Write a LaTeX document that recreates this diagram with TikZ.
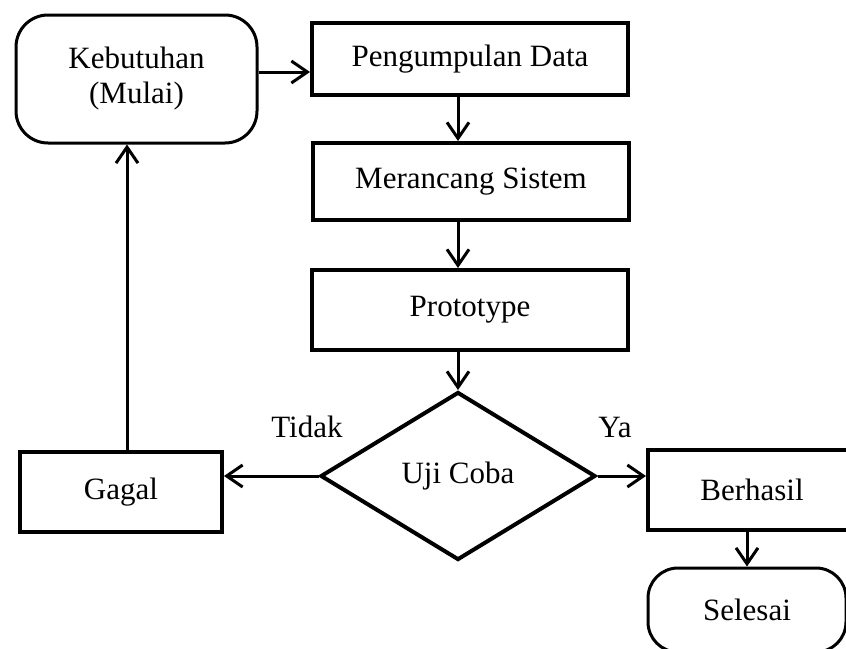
\documentclass[tikz,border=0pt]{standalone}
\usepackage{fontspec}
\setmainfont{Liberation Serif}
\usepackage{tikz}
\usetikzlibrary{shapes.geometric,arrows.meta}

\begin{document}
\begin{tikzpicture}[x=0.5pt, y=-0.5pt,
  font=\fontsize{15.5}{17.5}\selectfont,
  prosesbox/.style={draw, rectangle, line width=2pt, minimum width=158pt, inner sep=0pt},
  ujung/.style={draw, rectangle, line width=1.5pt, rounded corners=16pt, inner sep=0pt, align=center},
  keputusan/.style={draw, diamond, line width=2pt, minimum width=137.5pt, minimum height=84pt, inner sep=0pt},
  panah/.style={-{Straight Barb[length=8pt,width=11pt]}, line width=1.5pt}]
  \useasboundingbox (0,0) rectangle (846,648);
  \clip (0,0) rectangle (846,648);

  % Alur utama
  \node[ujung, minimum width=120.5pt, minimum height=64pt] (keb) at (136.5,79) {Kebutuhan\\(Mulai)};
  \node[prosesbox, minimum height=36pt] (data) at (470,59) {Pengumpulan Data};
  \node[prosesbox, minimum height=38.5pt] (rancang) at (471,181.5) {Merancang Sistem};
  \node[prosesbox, minimum height=40pt] (proto) at (470,310) {Prototype};
  \node[keputusan] (uji) at (458,476) {Uji Coba};

  % Hasil uji
  \node[prosesbox, minimum width=101pt, minimum height=40pt] (gagal) at (121,492) {Gagal};
  \node[prosesbox, minimum width=104pt, minimum height=40pt] (hasil) at (752,490) {Berhasil};
  \node[ujung, minimum width=99pt, minimum height=42pt, rounded corners=15pt] (selesai) at (747,610) {Selesai};
  \node (tidak) at (307,427) {Tidak};
  \node (ya) at (615,427) {Ya};

  % Panah
  \coordinate (kebkanan) at ([yshift=3.5pt]keb.east);
  \coordinate (gagalatas) at ([xshift=3pt]gagal.north);
  \draw[panah] (kebkanan) -- (kebkanan -| data.west);
  \draw[panah] (data.south -| uji.north) -- (rancang.north -| uji.north);
  \draw[panah] (rancang.south -| uji.north) -- (proto.north -| uji.north);
  \draw[panah] (proto.south -| uji.north) -- (uji.north);
  \draw[panah] (uji.west) -- (uji.west -| gagal.east);
  \draw[panah] (uji.east) -- (uji.east -| hasil.west);
  \draw[panah] (hasil.south -| selesai.north) -- (selesai.north);
  \draw[panah] (gagalatas) -- (gagalatas |- keb.south);
\end{tikzpicture}
\end{document}
